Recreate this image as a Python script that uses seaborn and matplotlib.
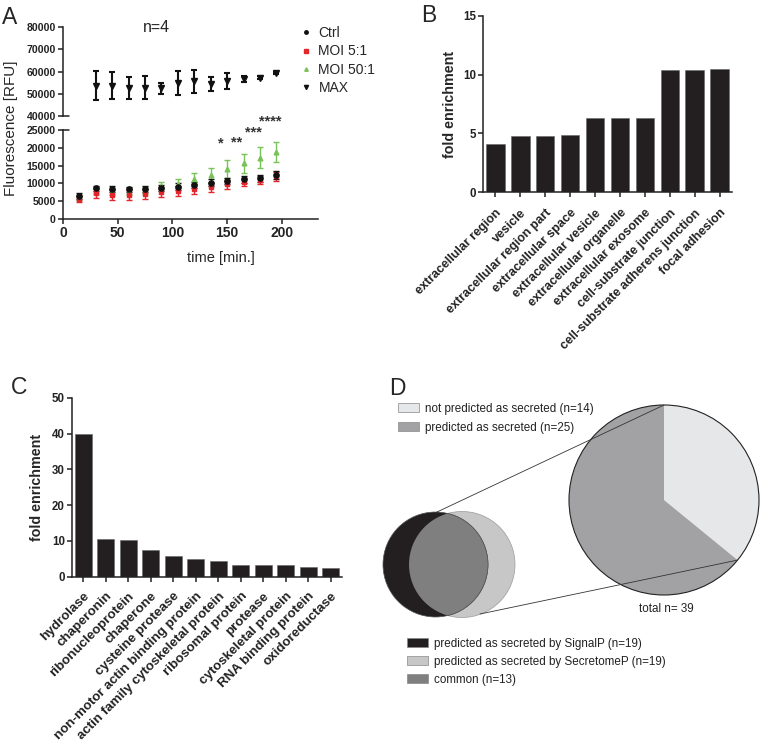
import matplotlib
matplotlib.use("Agg")
import numpy as np
import pandas as pd
import matplotlib.pyplot as plt
import seaborn as sns
from matplotlib.patches import Circle, Patch
from matplotlib.lines import Line2D

# figure size in pixels
W, H = 760, 746

### Panel A: fluorescence time course (mean +/- SEM, n=4) ###
times = [15, 30, 45, 60, 75, 90, 105, 120, 135, 150, 165, 180, 195]
ctrl_mean = [6500, 8600, 8400, 8300, 8400, 8700, 9100, 9500, 10200, 10600, 11100, 11500, 12400]
ctrl_err = [900, 800, 800, 800, 800, 800, 900, 900, 900, 900, 900, 1000, 1100]
moi5_mean = [5600, 7200, 6700, 6700, 7100, 7600, 8000, 8400, 8900, 9700, 10400, 11000, 12000]
moi5_err = [900, 1300, 1400, 1400, 1400, 1300, 1400, 1300, 1200, 1200, 1200, 1200, 1200]
moi50_mean = [6000, 8000, 7600, 7700, 8000, 9300, 9900, 11300, 12400, 14000, 15600, 17200, 18800]
moi50_err = [800, 900, 900, 900, 900, 1000, 1300, 1500, 1900, 2500, 2700, 3000, 2900]

max_times = [30, 45, 60, 75, 90, 105, 120, 135, 150, 165, 180, 195]
max_mean = [53700, 53600, 52700, 52800, 52500, 54900, 55600, 54400, 55900, 56700, 57300, 59500]
max_err = [6500, 6000, 5000, 5200, 2500, 5500, 5100, 3000, 3600, 1300, 600, 500]

star_times = [150, 165, 180, 195]
star_labels = ["*", "**", "***", "****"]
star_y = [21300, 21600, 24200, 27300]

### Panel B: GO cellular component enrichment ###
go_terms = ["extracellular region", "vesicle", "extracellular region part",
            "extracellular space", "extracellular vesicle", "extracellular organelle",
            "extracellular exosome", "cell-substrate junction",
            "cell-substrate adherens junction", "focal adhesion"]
go_fold = [4.1, 4.8, 4.8, 4.9, 6.3, 6.3, 6.35, 10.35, 10.4, 10.5]

### Panel C: protein class enrichment ###
pc_terms = ["hydrolase", "chaperonin", "ribonucleoprotein", "chaperone",
            "cysteine protease", "non-motor actin binding protein",
            "actin family cytoskeletal protein", "ribosomal protein", "protease",
            "cytoskeletal protein", "RNA binding protein", "oxidoreductase"]
pc_fold = [39.9, 10.6, 10.25, 7.4, 5.8, 5.0, 4.3, 3.35, 3.35, 3.2, 2.75, 2.35]

### Panel D: secretion prediction ###
pie_labels = ["not predicted as secreted (n=14)", "predicted as secreted (n=25)"]
pie_counts = [14, 25]
venn_labels = ["predicted as secreted by SignalP (n=19)",
               "predicted as secreted by SecretomeP (n=19)",
               "common (n=13)"]

BAR = "#231f20"
RED = "#e3262b"
GREEN = "#78c257"

sns.set_style("ticks")
plt.rcParams["font.family"] = ["Liberation Sans", "DejaVu Sans"]
plt.rcParams["axes.linewidth"] = 1.1
plt.rcParams["xtick.major.width"] = 1.1
plt.rcParams["ytick.major.width"] = 1.1
plt.rcParams["xtick.major.size"] = 3.6
plt.rcParams["ytick.major.size"] = 3.6
plt.rcParams["xtick.major.pad"] = 1.5
plt.rcParams["ytick.major.pad"] = 1.5
plt.rcParams["axes.edgecolor"] = "#222222"
plt.rcParams["xtick.color"] = "#222222"
plt.rcParams["ytick.color"] = "#222222"

fig = plt.figure(figsize=(W / 100, H / 100), dpi=100)


def px_axes(left, top, right, bottom):
    return fig.add_axes([left / W, 1 - bottom / H, (right - left) / W, (bottom - top) / H])


def bold_ticks(ax, size):
    for lab in ax.get_xticklabels() + ax.get_yticklabels():
        lab.set_fontweight("bold")
        lab.set_fontsize(size)


# ---- A ----
ax_hi = px_axes(63, 27, 318, 116)
ax_lo = px_axes(63, 130, 318, 219)

eb = dict(capsize=2.2, elinewidth=1.0, capthick=1.0, linestyle="none")
ax_lo.errorbar(times, moi50_mean, yerr=moi50_err, fmt="^", color=GREEN, ms=3.4, **eb)
ax_lo.errorbar(times, moi5_mean, yerr=moi5_err, fmt="s", color=RED, ms=3.4, **eb)
ax_lo.errorbar(times, ctrl_mean, yerr=ctrl_err, fmt="o", color="#111111", ms=3.8, **eb)
ax_hi.errorbar(max_times, max_mean, yerr=max_err, fmt="v", color="#111111", ms=4,
               capsize=2.5, elinewidth=1.5, capthick=1.5, linestyle="none")

for ax in (ax_hi, ax_lo):
    ax.set_xlim(0, 233)
    ax.spines[["top", "right"]].set_visible(False)
ax_hi.spines["bottom"].set_visible(False)
ax_hi.set_xticks([])
ax_hi.set_ylim(40000, 80000)
ax_hi.set_yticks(range(40000, 80001, 10000))
ax_lo.set_ylim(0, 25000)
ax_lo.set_yticks(range(0, 25001, 5000))
ax_lo.set_xticks([0, 50, 100, 150, 200])
bold_ticks(ax_hi, 7.6)
bold_ticks(ax_lo, 7.6)
for lab in ax_lo.get_xticklabels():
    lab.set_fontsize(10)
ax_lo.set_xlabel("time [min.]", fontsize=10.5, labelpad=3)
ax_lo.xaxis.set_label_coords(0.62, -0.36)

# axis break marks
for ax, yy in ((ax_hi, 0), (ax_lo, 1)):
    ax.plot([0, 0.022], [yy, yy], transform=ax.transAxes, color="#222222",
            lw=1.1, clip_on=False)

for t, lab, yv in zip(star_times, star_labels, star_y):
    ax_lo.text(t - 6, yv, lab, ha="center", va="center", fontsize=10.5,
               fontweight="bold", color="#333333", clip_on=False)

ax_hi.text(85, 80000, "n=4", ha="center", va="center", fontsize=11.5)
fig.text(11 / W, 1 - 128 / H, "Fluorescence [RFU]", rotation=90, ha="center",
         va="center", fontsize=11)

leg_handles = [
    Line2D([], [], marker="o", color="#111111", ls="none", ms=2.5),
    Line2D([], [], marker="s", color=RED, ls="none", ms=2.5),
    Line2D([], [], marker="^", color=GREEN, ls="none", ms=2.5),
    Line2D([], [], marker="v", color="#111111", ls="none", ms=3),
]
fig.legend(leg_handles, ["Ctrl", "MOI 5:1", "MOI 50:1", "MAX"], loc="upper left",
           bbox_to_anchor=(299 / W, 1 - 26 / H), frameon=False, fontsize=10,
           handlelength=1.0, handletextpad=0.4, labelspacing=0.32, borderpad=0,
           borderaxespad=0)

# ---- B ----
ax_b = px_axes(483, 15.7, 732, 192.3)
df_b = pd.DataFrame({"term": go_terms, "fold": go_fold})
sns.barplot(data=df_b, x="term", y="fold", ax=ax_b, color=BAR, saturation=1,
            width=0.74, edgecolor="#666666", linewidth=0.4)
ax_b.set_xlim(-0.5, len(go_terms) - 0.5)
ax_b.set_ylim(0, 15)
ax_b.set_yticks([0, 5, 10, 15])
ax_b.spines[["top", "right"]].set_visible(False)
ax_b.set_xlabel("")
ax_b.set_ylabel("fold enrichment", fontsize=10.3, fontweight="bold", labelpad=4)
ax_b.tick_params(axis="x", pad=7)
bold_ticks(ax_b, 8.3)
for lab in ax_b.get_xticklabels():
    lab.set_rotation(45)
    lab.set_ha("right")
    lab.set_rotation_mode("anchor")
    lab.set_fontsize(9)

# ---- C ----
ax_c = px_axes(72, 397.7, 342, 576.7)
df_c = pd.DataFrame({"term": pc_terms, "fold": pc_fold})
sns.barplot(data=df_c, x="term", y="fold", ax=ax_c, color=BAR, saturation=1,
            width=0.76, edgecolor="#666666", linewidth=0.4)
ax_c.set_xlim(-0.5, len(pc_terms) - 0.5)
ax_c.set_ylim(0, 50)
ax_c.set_yticks(range(0, 51, 10))
ax_c.spines[["top", "right"]].set_visible(False)
ax_c.set_xlabel("")
ax_c.set_ylabel("fold enrichment", fontsize=10.3, fontweight="bold", labelpad=6)
ax_c.tick_params(axis="x", pad=6)
bold_ticks(ax_c, 8.3)
for lab in ax_c.get_xticklabels():
    lab.set_rotation(45)
    lab.set_ha("right")
    lab.set_rotation_mode("anchor")
    lab.set_fontsize(9.6)

# ---- D ----
# axes in pixel units (y measured upward from the bottom of the figure)
ax_d = px_axes(380, 300, 760, 746)
pie_c = (664, 246)
pie_r = 95
pie_colors = ["#e6e7e8", "#a2a2a5"]
ax_d.pie(pie_counts, colors=pie_colors, startangle=90, counterclock=False,
         center=pie_c, radius=pie_r, wedgeprops=dict(linewidth=0), frame=True)
ax_d.add_patch(Circle(pie_c, pie_r, fill=False, ec="#222222", lw=0.8))

venn_colors = ["#231f20", "#c7c7c8", "#7f7f80"]
c_light = Circle((462, 181.5), 53, fc=venn_colors[1], ec="#9a9a9a", lw=0.5)
c_dark = Circle((435.5, 181.5), 52.5, fc=venn_colors[0], ec="#555555", lw=0.5)
ax_d.add_patch(c_light)
ax_d.add_patch(c_dark)
c_common = Circle((435.5, 181.5), 52.5, fc=venn_colors[2], ec="#555555", lw=0.5)
ax_d.add_patch(c_common)
c_common.set_clip_path(c_light)

# connector lines from the Venn diagram to the pie slice boundaries
a_top = np.deg2rad(90)
a_end = np.deg2rad(90 - 360 * pie_counts[0] / sum(pie_counts))
p_top = (pie_c[0] + pie_r * np.cos(a_top), pie_c[1] + pie_r * np.sin(a_top))
p_end = (pie_c[0] + pie_r * np.cos(a_end), pie_c[1] + pie_r * np.sin(a_end))
ax_d.plot([437, p_top[0]], [234, p_top[1]], color="#333333", lw=0.6)
ax_d.plot([480, p_end[0]], [132, p_end[1]], color="#333333", lw=0.6)

ax_d.text(666, 137, "total n= 39", ha="center", va="center", fontsize=8.4, color="#222222")

leg1 = ax_d.legend([Patch(fc=c, ec="#888888", lw=0.5) for c in pie_colors], pie_labels,
                   loc="upper left", bbox_to_anchor=(398, 746 - 403), bbox_transform=ax_d.transData,
                   frameon=False, fontsize=8.4, handlelength=1.8, handleheight=0.8,
                   handletextpad=0.55, labelspacing=0.58, borderpad=0, borderaxespad=0,
                   labelcolor="#222222")
ax_d.add_artist(leg1)
ax_d.legend([Patch(fc=c, ec="#888888", lw=0.5) for c in venn_colors], venn_labels,
            loc="upper left", bbox_to_anchor=(407, 746 - 638), bbox_transform=ax_d.transData,
            frameon=False, fontsize=8.4, handlelength=1.8, handleheight=0.8,
            handletextpad=0.55, labelspacing=0.5, borderpad=0, borderaxespad=0,
            labelcolor="#222222")

ax_d.set_xlim(380, 760)
ax_d.set_ylim(0, 446)
ax_d.set_aspect("auto")
ax_d.set_axis_off()

# panel letters
for letter, x, y in (("A", 2, 6), ("B", 421, 4), ("C", 11, 376), ("D", 389, 377)):
    fig.text(x / W, 1 - y / H, letter, ha="left", va="top", fontsize=16.5)

fig.savefig("out.png", dpi=100)
